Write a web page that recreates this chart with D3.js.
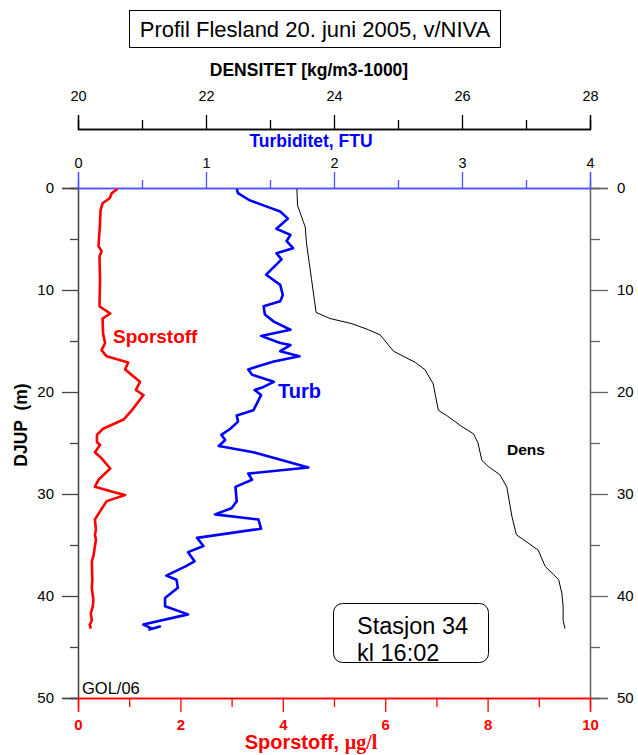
<!DOCTYPE html>
<html>
<head>
<meta charset="utf-8">
<script src="https://cdn.jsdelivr.net/npm/d3@7"></script>
<style>
  body { margin: 0; background: #fff; }
  text { font-family: "Liberation Sans", Arial, sans-serif; }
</style>
</head>
<body>
<div id="chart"></div>
<script>
// depth profile data
var sporDepth = [0.1, 0.5, 1.0, 1.5, 2.2, 3.5, 5.7, 6.2, 6.7, 9.0, 11.6, 12.3, 12.8, 14.3, 15.2, 15.9, 16.5, 17.1, 17.8, 18.2, 19.0, 19.8, 20.3, 21.8, 22.7, 23.6, 24.2, 24.9, 25.2, 25.9, 26.5, 27.5, 28.6, 29.3, 29.8, 30.1, 30.7, 31.7, 32.5, 33.5, 34.0, 34.5, 36.1, 36.6, 38.4, 39.2, 40.4, 41.0, 41.7, 42.4, 42.8, 43.2];
var sporValue = [0.77, 0.66, 0.62, 0.48, 0.44, 0.43, 0.40, 0.46, 0.42, 0.43, 0.42, 0.63, 0.48, 0.49, 0.53, 0.46, 0.56, 0.98, 0.92, 1.02, 1.21, 1.13, 1.28, 1.05, 0.89, 0.49, 0.37, 0.37, 0.43, 0.33, 0.46, 0.63, 0.40, 0.33, 0.69, 0.92, 0.56, 0.43, 0.33, 0.35, 0.33, 0.35, 0.30, 0.27, 0.28, 0.27, 0.30, 0.29, 0.25, 0.27, 0.23, 0.25];

var turbDepth = [0.1, 0.5, 1.2, 1.8, 2.3, 3.0, 4.0, 4.6, 5.2, 5.9, 6.4, 7.0, 8.5, 9.5, 10.5, 11.1, 11.6, 12.4, 13.1, 13.9, 14.5, 15.2, 15.4, 16.0, 16.5, 17.0, 17.5, 17.8, 18.3, 19.0, 19.5, 19.8, 20.3, 21.8, 22.3, 22.9, 23.6, 24.2, 24.7, 25.3, 25.9, 27.4, 28.0, 28.6, 29.3, 30.7, 31.4, 32.0, 32.5, 33.4, 34.3, 35.1, 35.7, 36.6, 37.1, 38.0, 38.4, 39.2, 40.2, 41.0, 41.8, 42.8, 43.2, 43.0, 43.3];
var turbValue = [1.24, 1.25, 1.34, 1.47, 1.58, 1.64, 1.55, 1.66, 1.63, 1.68, 1.55, 1.59, 1.47, 1.58, 1.60, 1.58, 1.45, 1.46, 1.53, 1.66, 1.43, 1.58, 1.66, 1.58, 1.73, 1.53, 1.40, 1.33, 1.36, 1.53, 1.45, 1.38, 1.43, 1.37, 1.24, 1.25, 1.19, 1.12, 1.15, 1.10, 1.37, 1.80, 1.33, 1.36, 1.23, 1.24, 1.20, 1.07, 1.41, 1.43, 0.93, 0.98, 0.86, 0.91, 0.84, 0.69, 0.77, 0.78, 0.68, 0.68, 0.86, 0.51, 0.58, 0.64, 0.55];

var densDepth = [0.1, 1.7, 3.3, 3.8, 5.4, 9.0, 12.2, 12.8, 13.3, 13.9, 14.4, 16.0, 17.1, 17.8, 19.2, 21.8, 22.3, 23.4, 24.1, 25.0, 26.7, 27.3, 28.1, 29.3, 32.2, 34.0, 34.7, 35.5, 37.1, 37.9, 38.4, 39.7, 41.0, 42.4, 43.2];
var densValue = [23.42, 23.43, 23.52, 23.55, 23.57, 23.65, 23.72, 23.94, 24.28, 24.54, 24.72, 24.93, 25.27, 25.42, 25.55, 25.63, 25.76, 26.0, 26.18, 26.25, 26.31, 26.41, 26.59, 26.70, 26.78, 26.85, 27.01, 27.19, 27.30, 27.43, 27.51, 27.56, 27.58, 27.58, 27.61];

var depthTicks = [0, 10, 20, 30, 40, 50];
var densTicks = [20, 22, 24, 26, 28];
var turbTicks = [0, 1, 2, 3, 4];
var sporTicks = [0, 2, 4, 6, 8, 10];

var W = 638, H = 755;
var plotLeft = 78, plotRight = 590, plotTop = 188, plotBottom = 698;

var svg = d3.select("#chart").append("svg")
    .attr("width", W)
    .attr("height", H);

// scales
var y = d3.scaleLinear().domain([0, 50]).range([plotTop, plotBottom]);
var xDens = d3.scaleLinear().domain([20, 28]).range([plotLeft, plotRight]);
var xTurb = d3.scaleLinear().domain([0, 4]).range([plotLeft, plotRight]);
var xSpor = d3.scaleLinear().domain([0, 10]).range([plotLeft, plotRight]);

function zip(a, b) { return a.map(function(v, i) { return [v, b[i]]; }); }

// helper: draw one axis with major ticks + labels and minor ticks
function drawAxis(axisFn, scale, major, minor, pos, majLen, minLen, color, fontSize, bold, pad) {
  var g = svg.append("g").attr("transform", pos);
  g.call(axisFn(scale).tickValues(minor).tickSize(minLen).tickFormat(""));
  var g2 = svg.append("g").attr("transform", pos);
  g2.call(axisFn(scale).tickValues(major).tickSize(majLen).tickPadding(pad).tickFormat(d3.format("")));
  [g, g2].forEach(function(s) {
    s.selectAll("path").attr("stroke", color).attr("stroke-width", 1.3);
    s.selectAll("line").attr("stroke", color).attr("stroke-width", 1.3);
    s.selectAll("text")
      .attr("fill", bold ? color : "#000")
      .style("font-size", fontSize + "px")
      .style("font-weight", bold ? "bold" : "normal")
      .style("font-family", "'Liberation Sans', Arial, sans-serif");
  });
  return g2;
}

// depth axes
drawAxis(d3.axisLeft, y, depthTicks, [5, 15, 25, 35, 45], "translate(" + plotLeft + ",0)", 16, 8, "#444", 15, false, 8);
drawAxis(d3.axisRight, y, depthTicks, [5, 15, 25, 35, 45], "translate(" + plotRight + ",0)", 18, 10, "#666", 15, false, 9);

// density axis (separate, above the plot)
drawAxis(d3.axisTop, xDens, densTicks, [21, 23, 25, 27], "translate(0,129)", 14, 9, "#000", 14.5, false, 14);

// turbidity axis (top of plot)
drawAxis(d3.axisTop, xTurb, turbTicks, [0.5, 1.5, 2.5, 3.5], "translate(0," + plotTop + ")", 16, 8, "#5050ff", 14.5, false, 4);

// sporstoff axis (bottom)
drawAxis(d3.axisBottom, xSpor, sporTicks, [1, 3, 5, 7, 9], "translate(0," + plotBottom + ")", 14, 9, "#ff0000", 15, true, 7);

// axis titles
svg.append("text")
  .attr("x", 309).attr("y", 76)
  .attr("text-anchor", "middle")
  .style("font-size", "17.5px").style("font-weight", "bold")
  .text("DENSITET [kg/m3-1000]");

svg.append("text")
  .attr("x", 311).attr("y", 147)
  .attr("text-anchor", "middle")
  .attr("fill", "#0000ff")
  .style("font-size", "17.5px").style("font-weight", "bold")
  .text("Turbiditet, FTU");

var sporTitle = svg.append("text")
  .attr("x", 311).attr("y", 749)
  .attr("text-anchor", "middle")
  .attr("fill", "#ff0000")
  .style("font-size", "20px").style("font-weight", "bold");
sporTitle.append("tspan").text("Sporstoff, ");
sporTitle.append("tspan")
  .style("font-family", "'Liberation Serif', 'Times New Roman', serif")
  .text("\u00b5g/l");

svg.append("text")
  .attr("transform", "translate(27,425) rotate(-90)")
  .attr("text-anchor", "middle")
  .style("white-space", "pre")
  .style("font-size", "17.5px").style("font-weight", "bold")
  .text("DJUP  (m)");

// title box
svg.append("rect")
  .attr("x", 129.5).attr("y", 10.5)
  .attr("width", 371).attr("height", 37)
  .attr("fill", "none").attr("stroke", "#000").attr("stroke-width", 1);
svg.append("text")
  .attr("x", 315).attr("y", 37)
  .attr("text-anchor", "middle")
  .style("font-size", "22px")
  .text("Profil Flesland 20. juni 2005, v/NIVA");

// profiles
var line = d3.line()
  .x(function(d) { return d[0]; })
  .y(function(d) { return d[1]; });

svg.append("path")
  .datum(zip(densValue, densDepth).map(function(d) { return [xDens(d[0]), y(d[1])]; }))
  .attr("fill", "none").attr("stroke", "#000").attr("stroke-width", 1)
  .attr("d", line);

svg.append("path")
  .datum(zip(turbValue, turbDepth).map(function(d) { return [xTurb(d[0]), y(d[1])]; }))
  .attr("fill", "none").attr("stroke", "#0000ff").attr("stroke-width", 2.6)
  .attr("stroke-linejoin", "round")
  .attr("d", line);

svg.append("path")
  .datum(zip(sporValue, sporDepth).map(function(d) { return [xSpor(d[0]), y(d[1])]; }))
  .attr("fill", "none").attr("stroke", "#ff0000").attr("stroke-width", 2.6)
  .attr("stroke-linejoin", "round")
  .attr("d", line);

// curve labels
svg.append("text").attr("x", 113).attr("y", 343)
  .attr("fill", "#ff0000").style("font-size", "19px").style("font-weight", "bold")
  .text("Sporstoff");
svg.append("text").attr("x", 278).attr("y", 398)
  .attr("fill", "#0000ff").style("font-size", "20px").style("font-weight", "bold")
  .text("Turb");
svg.append("text").attr("x", 507).attr("y", 455)
  .attr("fill", "#000").style("font-size", "15.5px").style("font-weight", "bold")
  .text("Dens");

// station box
svg.append("rect")
  .attr("x", 333.5).attr("y", 603.5)
  .attr("width", 155).attr("height", 59)
  .attr("rx", 9)
  .attr("fill", "none").attr("stroke", "#000").attr("stroke-width", 1);
svg.append("text").attr("x", 357).attr("y", 634)
  .style("font-size", "23.5px").text("Stasjon 34");
svg.append("text").attr("x", 357).attr("y", 661)
  .style("font-size", "23.5px").text("kl 16:02");

svg.append("text").attr("x", 82).attr("y", 694)
  .style("font-size", "16.5px").text("GOL/06");
</script>
</body>
</html>
